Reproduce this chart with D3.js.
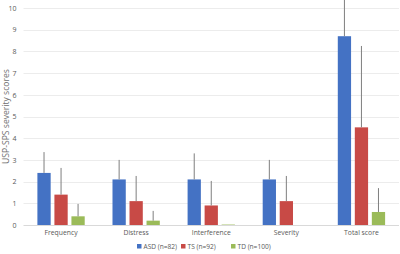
<!DOCTYPE html>
<html>
<head>
<meta charset="utf-8">
<script src="https://cdn.jsdelivr.net/npm/d3@7"></script>
<style>
  body { margin: 0; background: #fff; }
  svg text { font-family: "Open Sans", "Liberation Sans", sans-serif; fill: #595959; }
</style>
</head>
<body>
<div id="chart"></div>
<script>
// chart data
var categories = ["Frequency", "Distress", "Interference", "Severity", "Total score"];
var groups = ["ASD (n=82)", "TS (n=92)", "TD (n=100)"];
var colors = ["#4472c4", "#c84a46", "#9bbb59"];

var asdMean = [2.4, 2.1, 2.1, 2.1, 8.7];
var asdUpper = [3.36, 3.0, 3.3, 3.0, 11.2];
var tsMean = [1.4, 1.1, 0.9, 1.1, 4.5];
var tsUpper = [2.63, 2.26, 2.03, 2.26, 8.25];
var tdMean = [0.4, 0.2, 0.02, 0, 0.6];
var tdUpper = [0.97, 0.65, 0.02, 0, 1.7];

var yTicks = [0, 1, 2, 3, 4, 5, 6, 7, 8, 9, 10];

var means = [asdMean, tsMean, tdMean];
var uppers = [asdUpper, tsUpper, tdUpper];

var width = 400, height = 254;
var margin = {top: 8, right: 1, bottom: 29, left: 23.5};
var innerW = width - margin.left - margin.right,
    innerH = height - margin.top - margin.bottom;

var svg = d3.select("#chart").append("svg")
    .attr("width", width)
    .attr("height", height);

var g = svg.append("g")
    .attr("transform", "translate(" + margin.left + "," + margin.top + ")");

var x0 = d3.scaleBand()
    .domain(categories)
    .range([0, innerW])
    .paddingInner(0.37)
    .paddingOuter(0.185);

var x1 = d3.scaleBand()
    .domain(groups)
    .range([0, x0.bandwidth()])
    .paddingInner(0.22);

var y = d3.scaleLinear()
    .domain([0, 10])
    .range([innerH, 0]);

// gridlines
g.selectAll("line.grid")
    .data(yTicks)
    .enter().append("line")
    .attr("class", "grid")
    .attr("x1", 0)
    .attr("x2", innerW)
    .attr("y1", function (d) { return Math.round(y(d)) + 0.5; })
    .attr("y2", function (d) { return Math.round(y(d)) + 0.5; })
    .attr("stroke", function (d) { return d === 0 ? "#d9d9d9" : "#ececec"; })
    .attr("stroke-width", 1);

// y axis labels
var yAxis = d3.axisLeft(y).tickValues(yTicks).tickSize(0).tickPadding(7);
var yAxisGroup = g.append("g").call(yAxis);
yAxisGroup.select(".domain").remove();
yAxisGroup.selectAll("text").attr("font-size", 7);

// x axis labels
var xAxis = d3.axisBottom(x0).tickSize(0).tickPadding(5);
var xAxisGroup = g.append("g")
    .attr("transform", "translate(0," + innerH + ")")
    .call(xAxis);
xAxisGroup.select(".domain").remove();
xAxisGroup.selectAll("text").attr("font-size", 6.8);

// bars
var catGroups = g.selectAll(".cat")
    .data(categories)
    .enter().append("g")
    .attr("class", "cat")
    .attr("transform", function (d) { return "translate(" + x0(d) + ",0)"; });

groups.forEach(function (grp, gi) {
    catGroups.append("rect")
        .attr("x", x1(grp))
        .attr("width", x1.bandwidth())
        .attr("y", function (d, i) { return y(means[gi][i]); })
        .attr("height", function (d, i) { return innerH - y(means[gi][i]); })
        .attr("fill", colors[gi]);

    catGroups.append("line")
        .attr("x1", x1(grp) + x1.bandwidth() / 2)
        .attr("x2", x1(grp) + x1.bandwidth() / 2)
        .attr("y1", function (d, i) { return y(means[gi][i]); })
        .attr("y2", function (d, i) { return y(uppers[gi][i]); })
        .attr("stroke", "#7f7f7f")
        .attr("stroke-width", 1);
});

// y label
svg.append("text")
    .attr("transform", "translate(6," + (margin.top + innerH / 2) + ") rotate(-90)")
    .attr("text-anchor", "middle")
    .attr("dy", "0.35em")
    .attr("font-size", 8.6)
    .style("fill", "#6f6f6f")
    .text("USP-SPS severity scores");

// legend
var legendX = [137, 181, 231];
var legend = svg.selectAll(".legend")
    .data(groups)
    .enter().append("g")
    .attr("class", "legend")
    .attr("transform", function (d, i) { return "translate(" + legendX[i] + ",244)"; });

legend.append("rect")
    .attr("width", 4.5)
    .attr("height", 4.5)
    .attr("fill", function (d, i) { return colors[i]; });

legend.append("text")
    .attr("x", 6.5)
    .attr("y", 2.3)
    .attr("dy", "0.35em")
    .attr("font-size", 6.6)
    .text(function (d) { return d; });
</script>
</body>
</html>
